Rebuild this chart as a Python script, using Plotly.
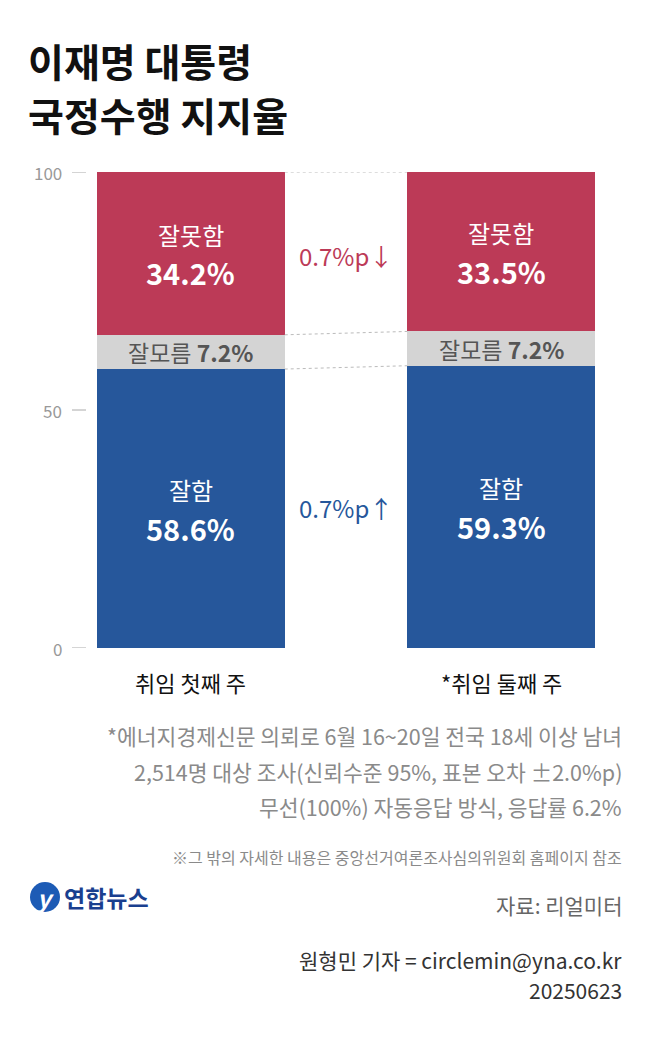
import plotly.graph_objects as go

categories = ["취임 첫째 주", "*취임 둘째 주"]
good = [58.6, 59.3]
unknown = [7.2, 7.2]
bad = [34.2, 33.5]
diff_labels = ["0.7%p↓", "0.7%p↑"]
yticks = [0, 50, 100]

F = "Noto Sans CJK KR"
BLUE, GRAY, RED = "#26579b", "#d4d4d4", "#bc3a57"
OFF = 8
L, R, T, B = 97, 595, 172, 648
W, H = 650, 1060
def px(x): return (x - L) / (R - L)
def py(y): return (B - y) / (B - T)

xs = [0, 1]
bw = 0.605
fig = go.Figure()
fig.add_bar(x=xs, y=good, marker_color=BLUE, width=bw, marker_line_width=0)
fig.add_bar(x=xs, y=unknown, marker_color=GRAY, width=bw, marker_line_width=0)
fig.add_bar(x=xs, y=bad, marker_color=RED, width=bw, marker_line_width=0)

ann = []
def A(x, y, text, size, color, anchor="center", bold=False, xref="paper", yref="paper"):
    if bold: text = "<b>" + text + "</b>"
    ann.append(dict(x=x, y=y, xref=xref, yref=yref, text=text, showarrow=False,
                    xanchor=anchor, yanchor="middle", font=dict(family=F, size=size, color=color)))

for i in range(2):
    A(xs[i], good[i] / 2 + 4, "잘함", 24, "white", xref="x", yref="y")
    A(xs[i], good[i] / 2 - 4, str(good[i]) + "%", 29, "white", bold=True, xref="x", yref="y")
    A(xs[i], good[i] + unknown[i] / 2, "잘모름 <b>%.1f%%</b>" % unknown[i], 23, "#555", xref="x", yref="y")
    top = good[i] + unknown[i]
    A(xs[i], top + bad[i] / 2 + 4, "잘못함", 24, "white", xref="x", yref="y")
    A(xs[i], top + bad[i] / 2 - 4, "%.1f%%" % bad[i], 29, "white", bold=True, xref="x", yref="y")
    A(xs[i], py(682), categories[i], 22, "#111", xref="x")

A(0.5, 82.5, diff_labels[0], 24, RED, xref="x", yref="y")
A(0.5, 29.5, diff_labels[1], 24, BLUE, xref="x", yref="y")

shapes = []
for v in yticks:
    A(px(64), v / 100, str(v), 17, "#999", anchor="right", yref="paper")
    shapes.append(dict(type="line", xref="paper", yref="y", x0=px(72), x1=px(86), y0=v, y1=v,
                       line=dict(color="#aaa", width=1)))
for y0, y1 in [(good[0], good[1]), (good[0] + unknown[0], good[1] + unknown[1]), (100, 100)]:
    shapes.append(dict(type="line", xref="x", yref="y", x0=bw / 2, x1=1 - bw / 2, y0=y0, y1=y1,
                       line=dict(color="#bbb", width=1, dash="dot")))

A(px(26), py(60), "이재명 대통령", 39, "#111", anchor="left", bold=True)
A(px(26), py(114), "국정수행 지지율", 39, "#111", anchor="left", bold=True)
notes = ["*에너지경제신문 의뢰로 6월 16~20일 전국 18세 이상 남녀",
         "2,514명 대상 조사(신뢰수준 95%, 표본 오차 ±2.0%p)",
         "무선(100%) 자동응답 방식, 응답률 6.2%"]
for t, y in zip(notes, [735, 771, 806]):
    A(px(624), py(y), t, 21.5, "#8a8a8a", anchor="right")
A(px(624), py(857), "※그 밖의 자세한 내용은 중앙선거여론조사심의위원회 홈페이지 참조", 16, "#8a8a8a", anchor="right")
A(px(624), py(905), "자료: 리얼미터", 21, "#666", anchor="right")
A(px(624), py(960), "원형민 기자 = circlemin@yna.co.kr", 21, "#333", anchor="right")
A(px(624), py(990), "20250623", 21, "#333", anchor="right")
A(px(62), py(897), "연합뉴스", 23, "#1a3f8f", anchor="left", bold=True)
A(px(45), py(897), "<i>y</i>", 24, "white", bold=True)
shapes.append(dict(type="circle", xref="paper", yref="paper", x0=px(30), x1=px(60), y0=py(912), y1=py(882),
                   fillcolor="#1d5bb5", line_width=0, layer="below"))

fig.update_layout(width=W, height=H, barmode="stack", showlegend=False,
                  margin=dict(l=L - OFF, r=W - R + OFF, t=T - OFF, b=H - B + OFF),
                  plot_bgcolor="white", paper_bgcolor="white",
                  xaxis=dict(range=[-bw / 2, 1 + bw / 2], visible=False),
                  yaxis=dict(range=[0, 100], visible=False),
                  annotations=ann, shapes=shapes)
fig.write_html("out.html")
